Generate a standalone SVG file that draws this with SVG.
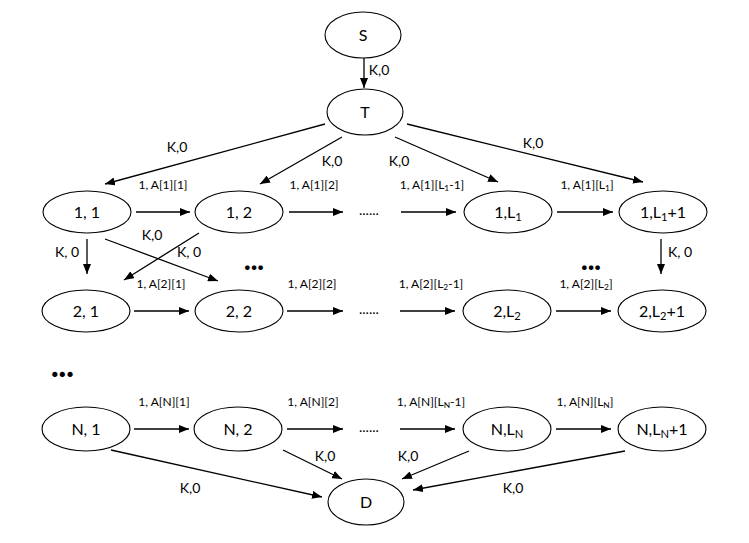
<svg xmlns="http://www.w3.org/2000/svg" width="749" height="543" viewBox="0 0 749 543">
<style>
  .n ellipse { fill: #fff; stroke: #000; stroke-width: 1.1; }
  .nl { font-family: Lato, "Liberation Sans", sans-serif; font-size: 16px; fill: #000; text-anchor: middle; }
  .el { font-family: Lato, "Liberation Sans", sans-serif; font-size: 12px; fill: #000; text-anchor: middle; }
  .kl { font-family: Lato, "Liberation Sans", sans-serif; font-size: 14px; fill: #000; text-anchor: middle; }
  .dt { font-family: Lato, "Liberation Sans", sans-serif; font-size: 14px; fill: #000; }
  .bd { font-family: Lato, "Liberation Sans", sans-serif; font-size: 28px; font-weight: 900; fill: #000; }
  .sub { font-size: 70%; }
  #connectors line { stroke: #000; stroke-width: 1.3; marker-end: url(#ah); }
</style>
<defs>
  <marker id="ah" markerUnits="userSpaceOnUse" markerWidth="10" markerHeight="8" refX="10" refY="4" orient="auto">
    <path d="M0,0 L10,4 L0,8 z" fill="#000"/>
  </marker>
</defs>
<rect width="749" height="543" fill="#fff"/>

<g id="connectors">
  <line x1="364" y1="58" x2="364" y2="88"/>
  <line x1="325" y1="124" x2="105" y2="184"/>
  <line x1="342" y1="137" x2="260" y2="184"/>
  <line x1="395" y1="137" x2="498" y2="182"/>
  <line x1="407" y1="124" x2="643" y2="182"/>
  <line x1="136" y1="212" x2="190" y2="212"/>
  <line x1="289" y1="212" x2="343" y2="212"/>
  <line x1="401" y1="212" x2="456" y2="212"/>
  <line x1="557" y1="212" x2="613" y2="212"/>
  <line x1="134" y1="311" x2="189" y2="311"/>
  <line x1="287" y1="311" x2="343" y2="311"/>
  <line x1="400" y1="311" x2="455" y2="311"/>
  <line x1="556" y1="311" x2="611" y2="311"/>
  <line x1="134" y1="429" x2="189" y2="429"/>
  <line x1="287" y1="429" x2="343" y2="429"/>
  <line x1="400" y1="429" x2="455" y2="429"/>
  <line x1="556" y1="429" x2="611" y2="429"/>
  <line x1="87" y1="239" x2="87" y2="274"/>
  <line x1="661" y1="239" x2="661" y2="274"/>
  <line x1="105" y1="239" x2="218" y2="281"/>
  <line x1="199" y1="233" x2="124" y2="280"/>
  <line x1="111" y1="450" x2="322" y2="497"/>
  <line x1="283" y1="450" x2="342" y2="479"/>
  <line x1="469" y1="451" x2="402" y2="479"/>
  <line x1="625" y1="451" x2="413" y2="490"/>
</g>

<g id="edge-labels">
  <text class="kl" x="379" y="75">K,0</text>
  <text class="kl" x="177" y="152">K,0</text>
  <text class="kl" x="332" y="166">K,0</text>
  <text class="kl" x="399" y="166">K,0</text>
  <text class="kl" x="533" y="148">K,0</text>
  <text class="el" x="163" y="189">1, A[1][1]</text>
  <text class="el" x="314" y="189">1, A[1][2]</text>
  <text class="el" x="432" y="189">1, A[1][L<tspan class="sub" dy="2">1</tspan><tspan dy="-2">-1]</tspan></text>
  <text class="el" x="587" y="189">1, A[1][L<tspan class="sub" dy="2">1</tspan><tspan dy="-2">]</tspan></text>
  <text class="el" x="161" y="288">1, A[2][1]</text>
  <text class="el" x="312" y="288">1, A[2][2]</text>
  <text class="el" x="431" y="288">1, A[2][L<tspan class="sub" dy="2">2</tspan><tspan dy="-2">-1]</tspan></text>
  <text class="el" x="586" y="288">1, A[2][L<tspan class="sub" dy="2">2</tspan><tspan dy="-2">]</tspan></text>
  <text class="el" x="164" y="406">1, A[N][1]</text>
  <text class="el" x="313" y="406">1, A[N][2]</text>
  <text class="el" x="431" y="406">1, A[N][L<tspan class="sub" dy="2">N</tspan><tspan dy="-2">-1]</tspan></text>
  <text class="el" x="585" y="406">1, A[N][L<tspan class="sub" dy="2">N</tspan><tspan dy="-2">]</tspan></text>
  <text class="kl" x="67" y="257">K, 0</text>
  <text class="kl" x="680" y="257">K, 0</text>
  <text class="kl" x="152" y="240">K,0</text>
  <text class="kl" x="189" y="257">K, 0</text>
  <text class="kl" x="190" y="493">K,0</text>
  <text class="kl" x="325" y="461">K,0</text>
  <text class="kl" x="408" y="461">K,0</text>
  <text class="kl" x="513" y="493">K,0</text>
</g>

<g id="ellipsis">
  <text class="dt" x="359" y="215">......</text>
  <text class="dt" x="359" y="314">......</text>
  <text class="dt" x="359" y="432">......</text>
  <text class="bd" x="244" y="270">...</text>
  <text class="bd" x="581" y="270">...</text>
  <text class="bd" x="51" y="377" style="font-size:32px">...</text>
</g>

<g id="node-S" class="n"><ellipse cx="363" cy="35" rx="38" ry="23"/><text class="nl" x="363" y="41">S</text></g>
<g id="node-T" class="n"><ellipse cx="365" cy="112" rx="38" ry="23"/><text class="nl" x="365" y="118">T</text></g>

<g id="node-1-1" class="n"><ellipse cx="87" cy="212" rx="44" ry="21"/><text class="nl" x="87" y="218">1, 1</text></g>
<g id="node-1-2" class="n"><ellipse cx="239" cy="212" rx="44" ry="21"/><text class="nl" x="239" y="218">1, 2</text></g>
<g id="node-1-L1" class="n"><ellipse cx="508" cy="212" rx="44" ry="21"/><text class="nl" x="508" y="218">1,L<tspan class="sub" dy="3">1</tspan></text></g>
<g id="node-1-L1p1" class="n"><ellipse cx="663" cy="212" rx="44" ry="21"/><text class="nl" x="663" y="218">1,L<tspan class="sub" dy="3">1</tspan><tspan dy="-3">+1</tspan></text></g>

<g id="node-2-1" class="n"><ellipse cx="86" cy="311" rx="44" ry="21"/><text class="nl" x="86" y="317">2, 1</text></g>
<g id="node-2-2" class="n"><ellipse cx="239" cy="311" rx="44" ry="21"/><text class="nl" x="239" y="317">2, 2</text></g>
<g id="node-2-L2" class="n"><ellipse cx="507" cy="311" rx="44" ry="21"/><text class="nl" x="507" y="317">2,L<tspan class="sub" dy="3">2</tspan></text></g>
<g id="node-2-L2p1" class="n"><ellipse cx="662" cy="311" rx="44" ry="21"/><text class="nl" x="662" y="317">2,L<tspan class="sub" dy="3">2</tspan><tspan dy="-3">+1</tspan></text></g>

<g id="node-N-1" class="n"><ellipse cx="86" cy="429" rx="44" ry="22"/><text class="nl" x="86" y="435">N, 1</text></g>
<g id="node-N-2" class="n"><ellipse cx="238" cy="429" rx="44" ry="22"/><text class="nl" x="238" y="435">N, 2</text></g>
<g id="node-N-LN" class="n"><ellipse cx="507" cy="429" rx="44" ry="22"/><text class="nl" x="507" y="435">N,L<tspan class="sub" dy="3">N</tspan></text></g>
<g id="node-N-LNp1" class="n"><ellipse cx="662" cy="429" rx="44" ry="22"/><text class="nl" x="662" y="435">N,L<tspan class="sub" dy="3">N</tspan><tspan dy="-3">+1</tspan></text></g>

<g id="node-D" class="n"><ellipse cx="366" cy="502" rx="38" ry="23"/><text class="nl" x="366" y="508">D</text></g>
</svg>
